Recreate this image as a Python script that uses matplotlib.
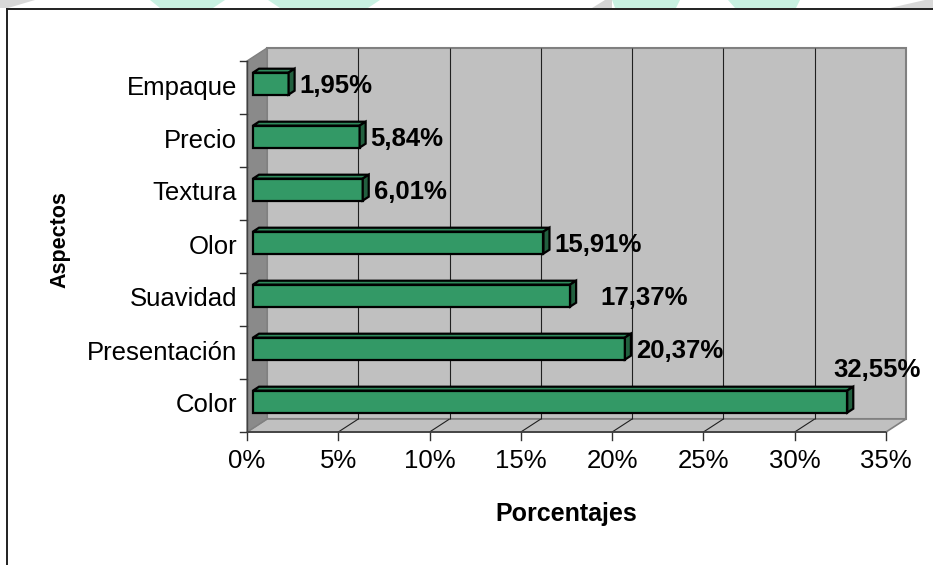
import matplotlib
matplotlib.use('Agg')
import matplotlib.pyplot as plt
from matplotlib.patches import Polygon
from matplotlib.lines import Line2D

aspectos = ['Color', 'Presentación', 'Suavidad', 'Olor', 'Textura', 'Precio', 'Empaque']
porcentajes = [32.55, 20.37, 17.37, 15.91, 6.01, 5.84, 1.95]
etiquetas = ['32,55%', '20,37%', '17,37%', '15,91%', '6,01%', '5,84%', '1,95%']
marcas_x = [0, 5, 10, 15, 20, 25, 30, 35]

plt.rcParams['font.family'] = ['Liberation Sans', 'DejaVu Sans']

W, H = 933, 565
fig = plt.figure(figsize=(W / 100, H / 100), dpi=100)
fig.patch.set_facecolor('white')


def fx(x):
    return x / W


def fy(y):
    return 1 - y / H


# plano frontal del grafico (en pixeles)
X0, X1, Y0, Y1 = 247, 886, 61, 432
ax = fig.add_axes([fx(X0), fy(Y1), fx(X1 - X0), (Y1 - Y0) / H])
ax.set_xlim(0, 35)
ax.set_ylim(0, 7)
ax.axis('off')

ppx = (X1 - X0) / 35.0   # pixeles por punto porcentual
ppy = (Y1 - Y0) / 7.0    # pixeles por categoria
K = 0.65                 # inclinacion de la profundidad


def p(x, y, z=0.0):
    # z = profundidad en pixeles horizontales
    return (x + z / ppx, y + K * z / ppy)


def poly(pts, fc, ec, lw=1.0, zorder=1):
    ax.add_patch(Polygon([p(*q) for q in pts], closed=True, facecolor=fc,
                         edgecolor=ec, linewidth=lw, zorder=zorder,
                         clip_on=False, joinstyle='miter'))


def line(a, b, color, lw=0.8, zorder=2):
    xa, ya = p(*a)
    xb, yb = p(*b)
    ax.plot([xa, xb], [ya, yb], color=color, lw=lw, zorder=zorder,
            clip_on=False, solid_capstyle='butt')


D = 20  # profundidad de las paredes
# pared del fondo, suelo y pared izquierda
poly([(0, 0, D), (35, 0, D), (35, 7, D), (0, 7, D)], '#c0c0c0', '#808080', 1.5)
poly([(0, 0, 0), (35, 0, 0), (35, 0, D), (0, 0, D)], '#c0c0c0', '#808080', 1.2)
poly([(0, 0, 0), (0, 7, 0), (0, 7, D), (0, 0, D)], '#8a8a8a', '#808080', 1.0)

for xv in marcas_x[1:-1]:
    line((xv, 0, D), (xv, 7, D), '#202020', 0.8)
    line((xv, 0, 0), (xv, 0, D), '#202020', 0.8)

# ejes frontales y marcas
line((0, 0, 0), (35, 0, 0), '#404040', 1.3, 3)
line((0, 0, 0), (0, 7, 0), '#404040', 1.0, 3)
for xv in marcas_x:
    ax.plot([xv, xv], [0, -8 / ppy], color='#303030', lw=1.0, clip_on=False)
    ax.text(xv, -17 / ppy, f'{xv}%', ha='center', va='top', fontsize=18.5)
for k in range(8):
    ax.plot([0, -7 / ppx], [k, k], color='#303030', lw=1.0, clip_on=False)
for i, nombre in enumerate(aspectos):
    ax.text(-10 / ppx, i + 0.5, nombre, ha='right', va='center', fontsize=18.5)

# barras en 3D
ZF, ZB = 6, 12
h = 22 / ppy
for i, (v, txt) in enumerate(zip(porcentajes, etiquetas)):
    yb, yt = i + 0.5 - h / 2, i + 0.5 + h / 2
    poly([(0, yb, ZF), (v, yb, ZF), (v, yt, ZF), (0, yt, ZF)],
         '#339966', 'black', 1.6, 5)
    poly([(0, yt, ZF), (v, yt, ZF), (v, yt, ZB), (0, yt, ZB)],
         '#2f8a5c', 'black', 1.6, 5)
    poly([(v, yb, ZF), (v, yt, ZF), (v, yt, ZB), (v, yb, ZB)],
         '#22603f', 'black', 1.6, 5)
    if v == max(porcentajes):
        tx, ty = p(v, yt, ZB)
        ax.text(tx - 20 / ppx, ty + 17 / ppy, txt, ha='left', va='center',
                fontsize=18.5, fontweight='bold', zorder=6)
    else:
        extra = 19 if txt == '17,37%' else 0
        tx, ty = p(v, i + 0.5, ZB)
        ax.text(tx + (5 + extra) / ppx, ty - 6 / ppy, txt, ha='left',
                va='center', fontsize=18.5, fontweight='bold', zorder=6)

# titulos de los ejes
fig.text(fx(566), fy(514), 'Porcentajes', ha='center', va='center',
         fontsize=18, fontweight='bold')
fig.text(fx(60), fy(240), 'Aspectos', ha='center', va='center',
         fontsize=15.5, fontweight='bold', rotation=90)

# marco del area del grafico
fig.add_artist(Line2D([fx(7.5), fx(933)], [fy(8.5), fy(8.5)],
                      color='#202020', lw=1.4))
fig.add_artist(Line2D([fx(7.5), fx(7.5)], [fy(8.5), fy(565)],
                      color='#202020', lw=1.4))

# formas tenues de fondo en la franja superior
for pts, c in [
    ([(0, 0), (35, 0), (8, 8), (0, 8)], '#d8d8d8'),
    ([(150, 0), (225, 0), (213, 8), (160, 8)], '#c8f1e2'),
    ([(268, 0), (380, 0), (368, 8), (280, 8)], '#c8f1e2'),
    ([(612, 0), (605, 0), (592, 8), (612, 8)], '#d5d5d5'),
    ([(612, 0), (680, 0), (676, 8), (615, 8)], '#c8f1e2'),
    ([(728, 0), (800, 0), (796, 8), (735, 8)], '#c8f1e2'),
    ([(933, 0), (925, 0), (890, 8), (933, 8)], '#d8d8d8'),
]:
    fig.add_artist(Polygon([(fx(a), fy(b)) for a, b in pts], closed=True,
                           facecolor=c, edgecolor='none',
                           transform=fig.transFigure))

fig.savefig('out.png', dpi=100)
